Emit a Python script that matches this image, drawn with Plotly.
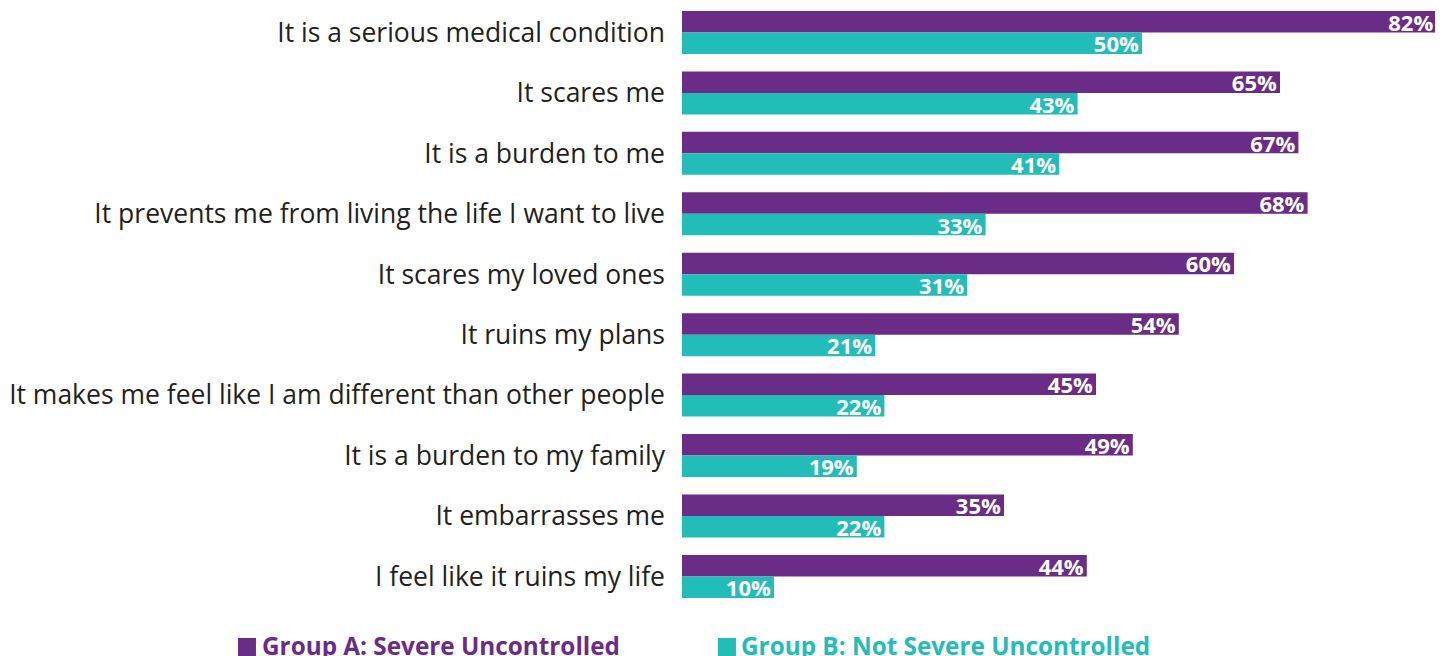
import plotly.graph_objects as go

categories = [
    "It is a serious medical condition",
    "It scares me",
    "It is a burden to me",
    "It prevents me from living the life I want to live",
    "It scares my loved ones",
    "It ruins my plans",
    "It makes me feel like I am different than other people",
    "It is a burden to my family",
    "It embarrasses me",
    "I feel like it ruins my life",
]
group_a = [82, 65, 67, 68, 60, 54, 45, 49, 35, 44]
group_b = [50, 43, 41, 33, 31, 21, 22, 19, 22, 10]
name_a = "Group A: Severe Uncontrolled"
name_b = "Group B: Not Severe Uncontrolled"

PURPLE = "#6A2C86"
TEAL = "#22BDB9"
FONT = "Open Sans"

fig = go.Figure()
for name, vals, col in [(name_a, group_a, PURPLE), (name_b, group_b, TEAL)]:
    fig.add_trace(go.Bar(
        y=categories, x=vals, name=name, orientation="h",
        marker=dict(color=col, line=dict(width=0)),
        texttemplate="%{x}%", textposition="inside", insidetextanchor="end",
        constraintext="none",
        textfont=dict(family=FONT, size=22, color="white", weight="bold"),
        showlegend=False,
    ))

fig.update_layout(
    width=1435, height=648,
    barmode="group", bargap=0.289, bargroupgap=0,
    margin=dict(l=674, r=2, t=0, b=40, autoexpand=False),
    plot_bgcolor="white", paper_bgcolor="white",
    xaxis=dict(range=[0, 82.5], visible=False, fixedrange=True),
    yaxis=dict(range=[9.655, -0.405], showgrid=False, showline=False, ticks="",
               ticklabelstandoff=16, automargin=False,
               tickfont=dict(family=FONT, size=26.5, color="#231F20")),
    font=dict(family=FONT),
)

# legend: colored squares + bold labels
for (x0, x1, tx, name, col) in [(-0.585, -0.5613, -0.5560, name_a, PURPLE),
                                (0.0474, 0.0711, 0.0751, name_b, TEAL)]:
    fig.add_shape(type="rect", xref="paper", yref="paper",
                  x0=x0, x1=x1, y0=-0.0362, y1=-0.0700,
                  fillcolor=col, line=dict(width=0))
    fig.add_annotation(xref="paper", yref="paper", x=tx, y=-0.0181,
                       xanchor="left", yanchor="top",
                       text="<b>" + name + "</b>", showarrow=False,
                       font=dict(family=FONT, size=24.3, color=col))

fig.write_html("out.html")
